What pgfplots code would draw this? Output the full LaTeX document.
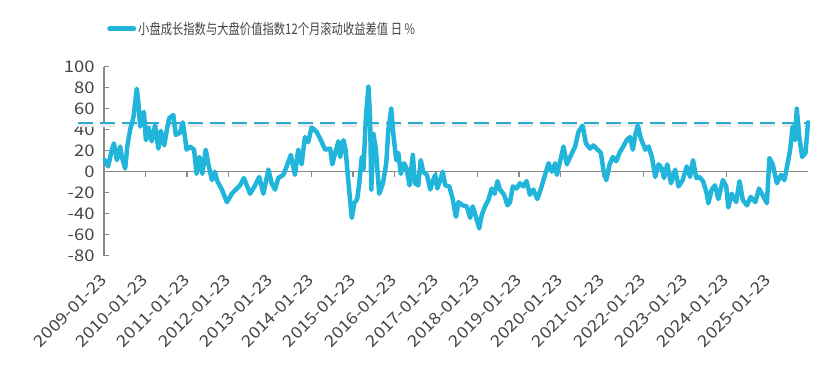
\documentclass[border=0pt]{standalone}
\usepackage{fontspec}
\usepackage{pgfplots}
\pgfplotsset{compat=1.18}
\newfontfamily\cjk[FakeStretch=0.78]{Noto Sans CJK SC}
\newfontfamily\tickfont[FakeStretch=1.15]{Noto Sans CJK SC}
\definecolor{lineblue}{RGB}{33,181,220}
\definecolor{dashblue}{RGB}{41,171,214}
\definecolor{axgray}{RGB}{137,137,137}
\definecolor{txtgray}{RGB}{68,68,68}
\begin{document}
\begin{tikzpicture}
\path[use as bounding box] (0,0) rectangle (831pt,376pt);
\begin{axis}[
  at={(104pt,120.3pt)}, anchor=south west,
  width=704pt, height=189pt, scale only axis,
  xmin=0, xmax=16.96, ymin=-80, ymax=100,
  clip=false,
  axis x line*=middle, axis y line*=left,
  hide obscured x ticks=false,
  axis line style={draw=axgray, line width=1.5pt},
  every tick/.style={draw=axgray, line width=1.2pt},
  major tick length=5pt,
  xtick align=outside, ytick align=inside,
  xtick={0,1,...,16},
  xticklabels={2009-01-23,2010-01-23,2011-01-23,2012-01-23,2013-01-23,2014-01-23,2015-01-23,2016-01-23,2017-01-23,2018-01-23,2019-01-23,2020-01-23,2021-01-23,2022-01-23,2023-01-23,2024-01-23,2025-01-23},
  ytick={-80,-60,...,100},
  /pgf/number format/assume math mode=true,
  tick label style={text=txtgray},
  xticklabel style={font=\tickfont\fontsize{16}{18}\selectfont, xshift=2pt, yshift=-98pt, rotate=45, anchor=east},
  yticklabel style={font=\tickfont\fontsize{16}{18}\selectfont, xshift=-6pt, anchor=east},
  legend style={at={(0.0,1.2)}, anchor=west, draw=none, fill=none,
    font=\cjk\fontsize{14.5}{17}\selectfont, text=txtgray},
  legend image code/.code={\draw[#1, line width=5pt, line cap=round] (0pt,0pt) -- (24pt,0pt);},
]
\addplot[gray!16, line width=3.5pt, dash pattern=on 15pt off 7pt, forget plot] coordinates {(-0.63,43.9) (16.96,43.9)};
\addplot[dashblue, line width=2pt, dash pattern=on 15pt off 7pt, forget plot] coordinates {(-0.63,46.7) (16.96,46.7)};
\addplot[lineblue, line width=4.5pt, line join=round, line cap=round] coordinates {
(0.02,11) (0.10,5) (0.19,21) (0.24,27) (0.31,11) (0.39,24) (0.43,14) (0.51,3) (0.56,24) (0.63,40)
(0.71,52) (0.79,79) (0.83,65) (0.87,43) (0.91,52) (0.96,57) (1.01,30) (1.07,42) (1.15,29) (1.23,44)
(1.31,22) (1.37,39) (1.45,25) (1.51,39) (1.57,51) (1.67,54) (1.73,35) (1.83,37) (1.90,47) (1.95,33)
(1.99,21) (2.07,24) (2.17,21) (2.23,-2) (2.30,14) (2.37,-2) (2.45,21) (2.51,8) (2.60,-8) (2.67,0)
(2.73,-9) (2.84,-17) (2.96,-29) (3.08,-21) (3.20,-16) (3.28,-13) (3.37,-6) (3.52,-21) (3.64,-13) (3.74,-5)
(3.84,-21) (3.96,2) (4.04,-11) (4.12,-17) (4.20,-6) (4.32,-3) (4.40,5) (4.50,16) (4.60,-3) (4.68,21)
(4.76,7) (4.84,33) (4.92,28) (5.00,42) (5.04,41) (5.12,38) (5.20,32) (5.33,21) (5.45,22) (5.50,7)
(5.57,18) (5.65,29) (5.69,14) (5.77,30) (5.82,21) (5.89,-11) (5.97,-44) (6.03,-30) (6.10,-26) (6.15,-11)
(6.21,14) (6.25,2) (6.31,52) (6.37,81) (6.41,52) (6.44,-17) (6.49,36) (6.55,21) (6.63,-21) (6.72,-11)
(6.80,8) (6.85,40) (6.92,60) (6.97,36) (7.04,11) (7.09,18) (7.15,-2) (7.23,8) (7.29,3) (7.36,-13)
(7.44,16) (7.49,-11) (7.57,-13) (7.63,11) (7.69,0) (7.78,-3) (7.86,-17) (7.92,-9) (7.98,-3) (8.03,-16)
(8.10,-8) (8.16,0) (8.22,-13) (8.32,-14) (8.40,-26) (8.48,-43) (8.54,-29) (8.64,-32) (8.74,-33) (8.82,-44)
(8.88,-33) (8.96,-43) (9.04,-54) (9.10,-41) (9.18,-33) (9.26,-27) (9.34,-16) (9.41,-21) (9.48,-9) (9.54,-17)
(9.64,-22) (9.72,-32) (9.78,-29) (9.85,-14) (9.94,-16) (10.02,-11) (10.10,-14) (10.18,-9) (10.26,-22) (10.34,-17)
(10.44,-26) (10.52,-17) (10.61,-5) (10.71,8) (10.79,0) (10.87,8) (10.91,-3) (10.99,10) (11.07,24) (11.15,7)
(11.23,14) (11.35,24) (11.43,38) (11.53,44) (11.61,27) (11.71,22) (11.79,25) (11.89,21) (11.97,18) (12.03,2)
(12.10,-8) (12.18,7) (12.26,14) (12.34,10) (12.42,18) (12.51,24) (12.59,30) (12.67,33) (12.74,21) (12.80,35)
(12.86,44) (12.93,32) (13.04,21) (13.12,24) (13.20,14) (13.28,-5) (13.36,7) (13.44,3) (13.49,-6) (13.57,7)
(13.66,-11) (13.76,2) (13.84,-14) (13.94,-8) (14.04,5) (14.12,-5) (14.19,11) (14.27,-6) (14.34,-5) (14.43,-9)
(14.51,-19) (14.56,-30) (14.64,-17) (14.72,-13) (14.80,-26) (14.91,-8) (14.99,-14) (15.04,-34) (15.12,-21) (15.23,-29)
(15.31,-9) (15.39,-27) (15.49,-32) (15.58,-24) (15.69,-29) (15.78,-16) (15.89,-24) (15.97,-30) (16.03,13) (16.11,7)
(16.21,-11) (16.31,-3) (16.39,-8) (16.47,8) (16.53,21) (16.59,43) (16.65,30) (16.69,60) (16.75,33) (16.82,14)
(16.90,18) (16.96,47)
};
\addlegendentry{小盘成长指数与大盘价值指数12个月滚动收益差值 日 \%}
\end{axis}
\end{tikzpicture}
\end{document}
